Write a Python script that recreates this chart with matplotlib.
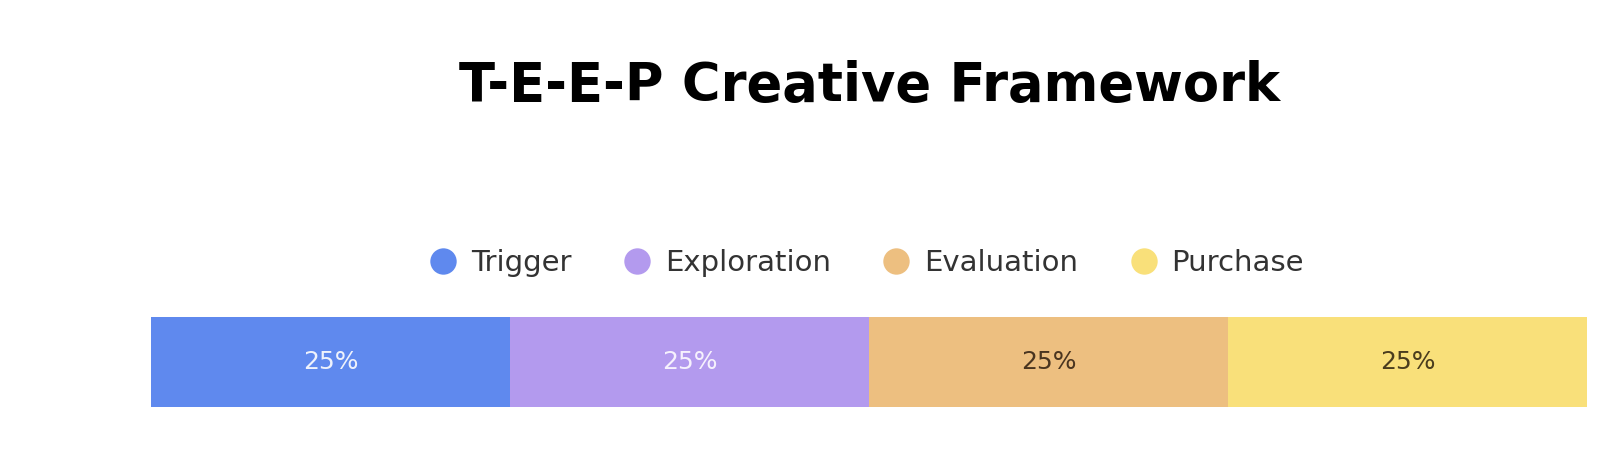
import matplotlib.pyplot as plt
from matplotlib.lines import Line2D

stages = ["Trigger", "Exploration", "Evaluation", "Purchase"]
shares = [25, 25, 25, 25]
colors = ["#5F89EE", "#B39AEE", "#EDBF80", "#F9E07A"]
label_colors = ["#EEF2FC", "#F6F1FD", "#4A3520", "#4A3D1E"]

fig = plt.figure(figsize=(16.1, 4.7), dpi=100)
fig.patch.set_facecolor("white")

fig.text(0.540, 0.817, "T-E-E-P Creative Framework", ha="center", va="center",
         fontsize=38, fontweight="bold", family="DejaVu Sans", color="black")

ax = fig.add_axes([0.0938, 0.134, 0.8919, 0.1915])
left = 0
for name, val, col, lc in zip(stages, shares, colors, label_colors):
    ax.barh(0, val, left=left, color=col, height=1.0, edgecolor="none")
    ax.text(left + val / 2, 0, f"{val}%", ha="center", va="center",
            fontsize=18, color=lc)
    left += val
ax.set_xlim(0, sum(shares))
ax.set_ylim(-0.5, 0.5)
ax.axis("off")

handles = [Line2D([0], [0], marker="o", linestyle="none", markersize=19,
                  markerfacecolor=c, markeredgecolor="none") for c in colors]
fig.legend(handles, stages, loc="center", bbox_to_anchor=(0.538, 0.440),
           ncol=4, frameon=False, fontsize=21, handlelength=1.0,
           handletextpad=0.45, columnspacing=1.75, labelcolor="#333333")

fig.savefig("out.png", dpi=100)
